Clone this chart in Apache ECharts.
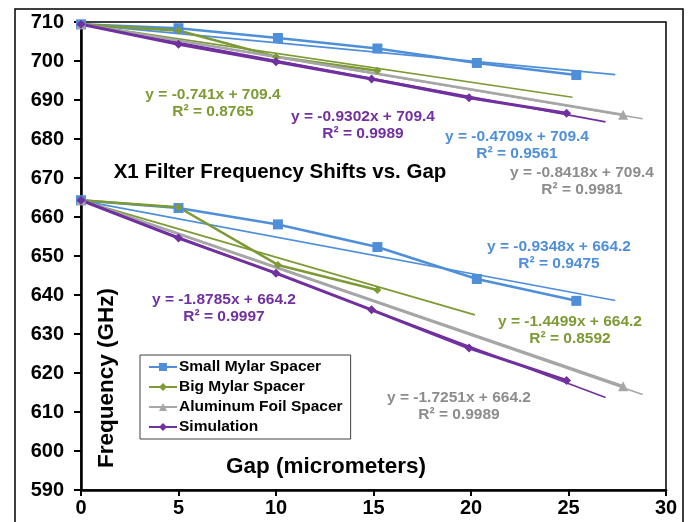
<!DOCTYPE html>
<html>
<head>
<meta charset="utf-8">
<script src="https://cdn.jsdelivr.net/npm/echarts@6/dist/echarts.min.js"></script>
<style>
html,body{margin:0;padding:0;background:#fff;}
#c{width:692px;height:522px;}
</style>
</head>
<body>
<div id="c"></div>
<script>
// ---- data ----
const xTicks = [0, 5, 10, 15, 20, 25, 30];
const yTicks = [590, 600, 610, 620, 630, 640, 650, 660, 670, 680, 690, 700, 710];

const smallMylarTop = [[0, 709.4], [5, 708.4], [10.1, 705.9], [15.2, 703.2], [20.3, 699.5], [25.4, 696.4]];
const bigMylarTop   = [[0, 709.4], [5, 707.8], [10, 701.1], [15.2, 697.5]];
const alFoilTop     = [[0, 709.4], [27.8, 686.2]];
const simulationTop = [[0, 709.4], [5, 704.3], [10, 699.8], [14.9, 695.4], [19.9, 690.6], [24.9, 686.6]];

const smallMylarBot = [[0, 664.3], [5, 662.3], [10.1, 658.1], [15.2, 652.3], [20.3, 644.1], [25.4, 638.5]];
const bigMylarBot   = [[0, 664.3], [5, 662.5], [10.1, 647.7], [15.2, 641.3]];
const alFoilBot     = [[0, 664.3], [27.8, 616.6]];
const simulationBot = [[0, 664.3], [5, 654.6], [10, 645.6], [14.9, 636.2], [19.9, 626.4], [24.9, 618.1]];

// trendline end points
const trendSmallTop = [[0, 709.4], [27.4, 696.5]];
const trendBigTop   = [[0, 709.4], [25.2, 690.7]];
const trendAlTop    = [[0, 709.4], [28.8, 685.2]];
const trendSimTop   = [[0, 709.4], [26.9, 684.4]];
const trendSmallBot = [[0, 664.2], [27.4, 638.6]];
const trendBigBot   = [[0, 664.2], [20.2, 634.9]];
const trendAlBot    = [[0, 664.2], [28.8, 614.5]];
const trendSimBot   = [[0, 664.2], [26.9, 613.7]];

const seriesNames = ['Small Mylar Spacer', 'Big Mylar Spacer', 'Aluminum Foil Spacer', 'Simulation'];
const chartTitle = 'X1 Filter Frequency Shifts vs. Gap';
const xTitle = 'Gap (micrometers)';
const yTitle = 'Frequency (GHz)';

const eqTexts = [
  ['y = -0.741x + 709.4', 'R² = 0.8765'],
  ['y = -0.9302x + 709.4', 'R² = 0.9989'],
  ['y = -0.4709x + 709.4', 'R² = 0.9561'],
  ['y = -0.8418x + 709.4', 'R² = 0.9981'],
  ['y = -0.9348x + 664.2', 'R² = 0.9475'],
  ['y = -1.4499x + 664.2', 'R² = 0.8592'],
  ['y = -1.8785x + 664.2', 'R² = 0.9997'],
  ['y = -1.7251x + 664.2', 'R² = 0.9989']
];

// ---- styles ----
const BLUE = '#4F8FDA', GREEN = '#7D9A35', GRAY = '#A6A6A6', PURPLE = '#7030A0';
const FONT = '"Liberation Sans", Arial, sans-serif';
const eqStyle = [
  {x: 213, y: 95, c: GREEN},
  {x: 363, y: 117, c: PURPLE},
  {x: 517, y: 137, c: BLUE},
  {x: 582, y: 173, c: '#8C8C8C'},
  {x: 559, y: 247, c: BLUE},
  {x: 570, y: 322, c: GREEN},
  {x: 224, y: 300, c: PURPLE},
  {x: 459, y: 398, c: '#8C8C8C'}
];

function dataSeries(name, data, color, symbol, size, width) {
  return {
    name: name, type: 'line', data: data, z: 5,
    symbol: symbol, symbolSize: size, showSymbol: true,
    lineStyle: {color: color, width: width},
    itemStyle: {color: color},
    emphasis: {disabled: true}, animation: false
  };
}
function trendSeries(data, color) {
  return {
    name: 'trend', type: 'line', data: data, z: 3,
    showSymbol: false, symbol: 'none', silent: true,
    lineStyle: {color: color, width: 1.6},
    emphasis: {disabled: true}, animation: false
  };
}

const graphics = [
  {type: 'rect', shape: {x: 15, y: 9, width: 668, height: 600}, style: {fill: 'none', stroke: '#000', lineWidth: 1.5}, silent: true},
  {type: 'text', x: 280, y: 172, style: {text: chartTitle, font: 'bold 20.5px ' + FONT, fill: '#000', align: 'center', verticalAlign: 'middle'}},
  {type: 'text', x: 326, y: 467, style: {text: xTitle, font: 'bold 22.5px ' + FONT, fill: '#000', align: 'center', verticalAlign: 'middle'}},
  {type: 'text', x: 107, y: 378, rotation: Math.PI / 2, style: {text: yTitle, font: 'bold 22.5px ' + FONT, fill: '#000', align: 'center', verticalAlign: 'middle'}}
];
eqTexts.forEach(function (t, i) {
  const s = eqStyle[i];
  graphics.push({type: 'text', x: s.x, y: s.y, style: {text: t[0], font: 'bold 15.5px ' + FONT, fill: s.c, align: 'center', verticalAlign: 'middle'}});
  graphics.push({type: 'text', x: s.x, y: s.y + 17, style: {text: t[1], font: 'bold 15.5px ' + FONT, fill: s.c, align: 'center', verticalAlign: 'middle'}});
});

const chart = echarts.init(document.getElementById('c'), null, {renderer: 'canvas'});
chart.setOption({
  animation: false,
  backgroundColor: '#fff',
  grid: {left: 81, right: 26, top: 22, bottom: 32, show: true, borderColor: '#000', borderWidth: 1.5, backgroundColor: 'transparent'},
  xAxis: {
    type: 'value', min: xTicks[0], max: xTicks[xTicks.length - 1], interval: 5,
    axisLine: {show: true, lineStyle: {color: '#000', width: 2.5}},
    axisTick: {show: true, length: 6, lineStyle: {color: '#000', width: 2}},
    axisLabel: {color: '#000', fontFamily: FONT, fontWeight: 'bold', fontSize: 20, margin: 8},
    splitLine: {show: false}
  },
  yAxis: {
    type: 'value', min: yTicks[0], max: yTicks[yTicks.length - 1], interval: 10,
    axisLine: {show: true, lineStyle: {color: '#000', width: 2.5}},
    axisTick: {show: true, length: 7, lineStyle: {color: '#000', width: 2}},
    axisLabel: {color: '#000', fontFamily: FONT, fontWeight: 'bold', fontSize: 20, margin: 17},
    splitLine: {show: false}
  },
  legend: {
    data: seriesNames, orient: 'vertical', left: 140, top: 355,
    itemWidth: 28, itemHeight: 10, itemGap: 4,
    padding: [4, 8, 4, 8],
    borderColor: '#404040', borderWidth: 1, backgroundColor: '#fff',
    textStyle: {color: '#000', fontFamily: FONT, fontWeight: 'bold', fontSize: 15.5, padding: [0, 0, 0, -3]}
  },
  series: [
    trendSeries(trendSmallTop, BLUE), trendSeries(trendBigTop, GREEN), trendSeries(trendAlTop, GRAY), trendSeries(trendSimTop, PURPLE),
    trendSeries(trendSmallBot, BLUE), trendSeries(trendBigBot, GREEN), trendSeries(trendAlBot, GRAY), trendSeries(trendSimBot, PURPLE),
    dataSeries(seriesNames[0], smallMylarTop, BLUE, 'rect', 10, 2.6),
    dataSeries(seriesNames[1], bigMylarTop, GREEN, 'diamond', 8, 2.6),
    dataSeries(seriesNames[2], alFoilTop, GRAY, 'triangle', 10, 2.6),
    dataSeries(seriesNames[3], simulationTop, PURPLE, 'diamond', 9, 3),
    dataSeries(seriesNames[0], smallMylarBot, BLUE, 'rect', 10, 2.6),
    dataSeries(seriesNames[1], bigMylarBot, GREEN, 'diamond', 8, 2.6),
    dataSeries(seriesNames[2], alFoilBot, GRAY, 'triangle', 10, 2.6),
    dataSeries(seriesNames[3], simulationBot, PURPLE, 'diamond', 9, 3)
  ],
  graphic: graphics
});
</script>
</body>
</html>
